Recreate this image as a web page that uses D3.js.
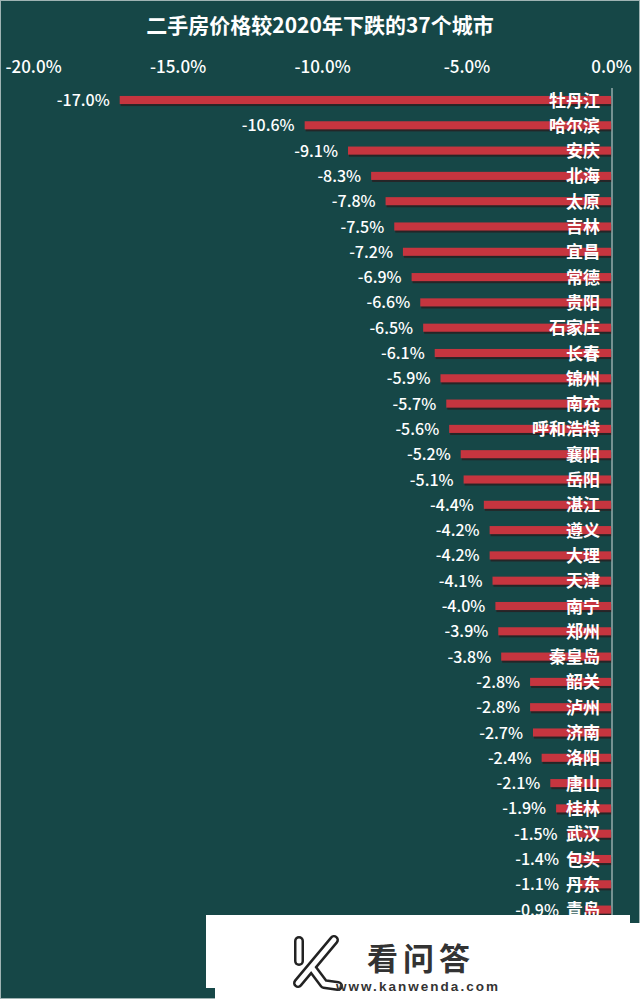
<!DOCTYPE html>
<html><head><meta charset="utf-8">
<script src="https://cdn.jsdelivr.net/npm/d3@7/dist/d3.min.js"></script>
<style>html,body{margin:0;padding:0;background:#164747;}svg{display:block;}</style>
</head><body>
<script>
const title = "二手房价格较2020年下跌的37个城市";
const cities = ["牡丹江","哈尔滨","安庆","北海","太原","吉林","宜昌","常德","贵阳","石家庄","长春","锦州","南充","呼和浩特","襄阳","岳阳","湛江","遵义","大理","天津","南宁","郑州","秦皇岛","韶关","泸州","济南","洛阳","唐山","桂林","武汉","包头","丹东","青岛"];
const values = [-17.0,-10.6,-9.1,-8.3,-7.8,-7.5,-7.2,-6.9,-6.6,-6.5,-6.1,-5.9,-5.7,-5.6,-5.2,-5.1,-4.4,-4.2,-4.2,-4.1,-4.0,-3.9,-3.8,-2.8,-2.8,-2.7,-2.4,-2.1,-1.9,-1.5,-1.4,-1.1,-0.9];
const tickValues = [-20,-15,-10,-5,0];
const watermarkName = "看问答";
const watermarkUrl = "www.kanwenda.com";

const W = 640, H = 999;
const svg = d3.select("body").append("svg").attr("width", W).attr("height", H);
const FONT = "'Noto Sans CJK SC','Noto Sans',sans-serif";

svg.append("rect").attr("width", W).attr("height", H).attr("fill", "#164747");
svg.append("rect").attr("x", 0.5).attr("y", 0.5).attr("width", W - 1).attr("height", H - 1)
  .attr("fill", "none").attr("stroke", "#9fb3b3").attr("stroke-width", 1);

svg.append("text").attr("x", 320).attr("y", 33).attr("text-anchor", "middle")
  .attr("fill", "#ffffff").attr("font-family", FONT).attr("font-weight", "bold")
  .attr("font-size", 21).text(title);

const x = d3.scaleLinear().domain([-20, 0]).range([33, 611]);
const step = 25.3;
const y = d3.scaleBand().domain(cities)
  .range([100 - step / 2, 100 - step / 2 + step * cities.length])
  .paddingInner(0.68).paddingOuter(0.34);
const bw = y.bandwidth();

const axis = svg.append("g").attr("transform", "translate(0,55)")
  .call(d3.axisTop(x).tickValues(tickValues).tickSize(0).tickPadding(0)
    .tickFormat(d => d.toFixed(1) + "%"));
axis.select(".domain").remove();
axis.selectAll("text").attr("fill", "#ffffff").attr("font-family", FONT)
  .attr("font-size", 17).attr("font-weight", 500).attr("dy", "1.05em");

const data = cities.map((c, i) => ({city: c, value: values[i]}));

// bar shadows
svg.append("g").selectAll("rect").data(data).join("rect")
  .attr("x", d => x(d.value) + 1).attr("y", d => y(d.city) + 2)
  .attr("width", d => x(0) - x(d.value)).attr("height", bw)
  .attr("fill", "#2b1a1c").attr("opacity", 0.75);
// bars
svg.append("g").selectAll("rect").data(data).join("rect")
  .attr("x", d => x(d.value)).attr("y", d => y(d.city))
  .attr("width", d => x(0) - x(d.value)).attr("height", bw)
  .attr("fill", "#c6353f");

// zero axis line
svg.append("line").attr("x1", x(0) + 1).attr("x2", x(0) + 1).attr("y1", 88).attr("y2", H)
  .attr("stroke", "#d5dede").attr("stroke-width", 1);

// city labels
const cityLabels = svg.append("g").selectAll("text").data(data).join("text")
  .attr("x", 600).attr("y", d => y(d.city) + bw / 2 + 6.5)
  .attr("text-anchor", "end").attr("fill", "#ffffff").attr("font-family", FONT)
  .attr("font-weight", "bold").attr("font-size", 17).text(d => d.city);
const cityLeft = {};
cityLabels.each(function(d) { cityLeft[d.city] = 600 - this.getComputedTextLength(); });

// value labels
svg.append("g").selectAll("text").data(data).join("text")
  .attr("x", d => Math.min(x(d.value) - 10, cityLeft[d.city] - 7))
  .attr("y", d => y(d.city) + bw / 2 + 6)
  .attr("text-anchor", "end").attr("fill", "#ffffff").attr("font-family", FONT)
  .attr("font-weight", 500).attr("font-size", 16).text(d => d.value.toFixed(1) + "%");

// watermark overlay
const wm = svg.append("g");
wm.append("rect").attr("x", 206).attr("y", 915).attr("width", 424).attr("height", 73).attr("fill", "#ffffff");
wm.append("rect").attr("x", 215).attr("y", 923).attr("width", 425).attr("height", 76).attr("fill", "#ffffff");
const kPaths = [
  "M299,941 L299,961",
  "M334,940 L298,983",
  "M312,968 L324,984 L338,986"
];
kPaths.forEach(p => {
  wm.append("path").attr("d", p).attr("fill", "none").attr("stroke", "#222")
    .attr("stroke-width", 10).attr("stroke-linecap", "round").attr("stroke-linejoin", "round");
});
kPaths.forEach(p => {
  wm.append("path").attr("d", p).attr("fill", "none").attr("stroke", "#ffffff")
    .attr("stroke-width", 5).attr("stroke-linecap", "round").attr("stroke-linejoin", "round");
});
wm.append("text").attr("x", 367).attr("y", 970).attr("fill", "#333333")
  .attr("font-family", FONT).attr("font-weight", "bold").attr("font-size", 31)
  .attr("textLength", 103).text(watermarkName);
wm.append("text").attr("x", 336).attr("y", 991).attr("fill", "#333333")
  .attr("font-family", "'Liberation Sans',Arial,sans-serif").attr("font-weight", "bold")
  .attr("font-size", 13.5).attr("textLength", 162).text(watermarkUrl);
</script>
</body></html>
